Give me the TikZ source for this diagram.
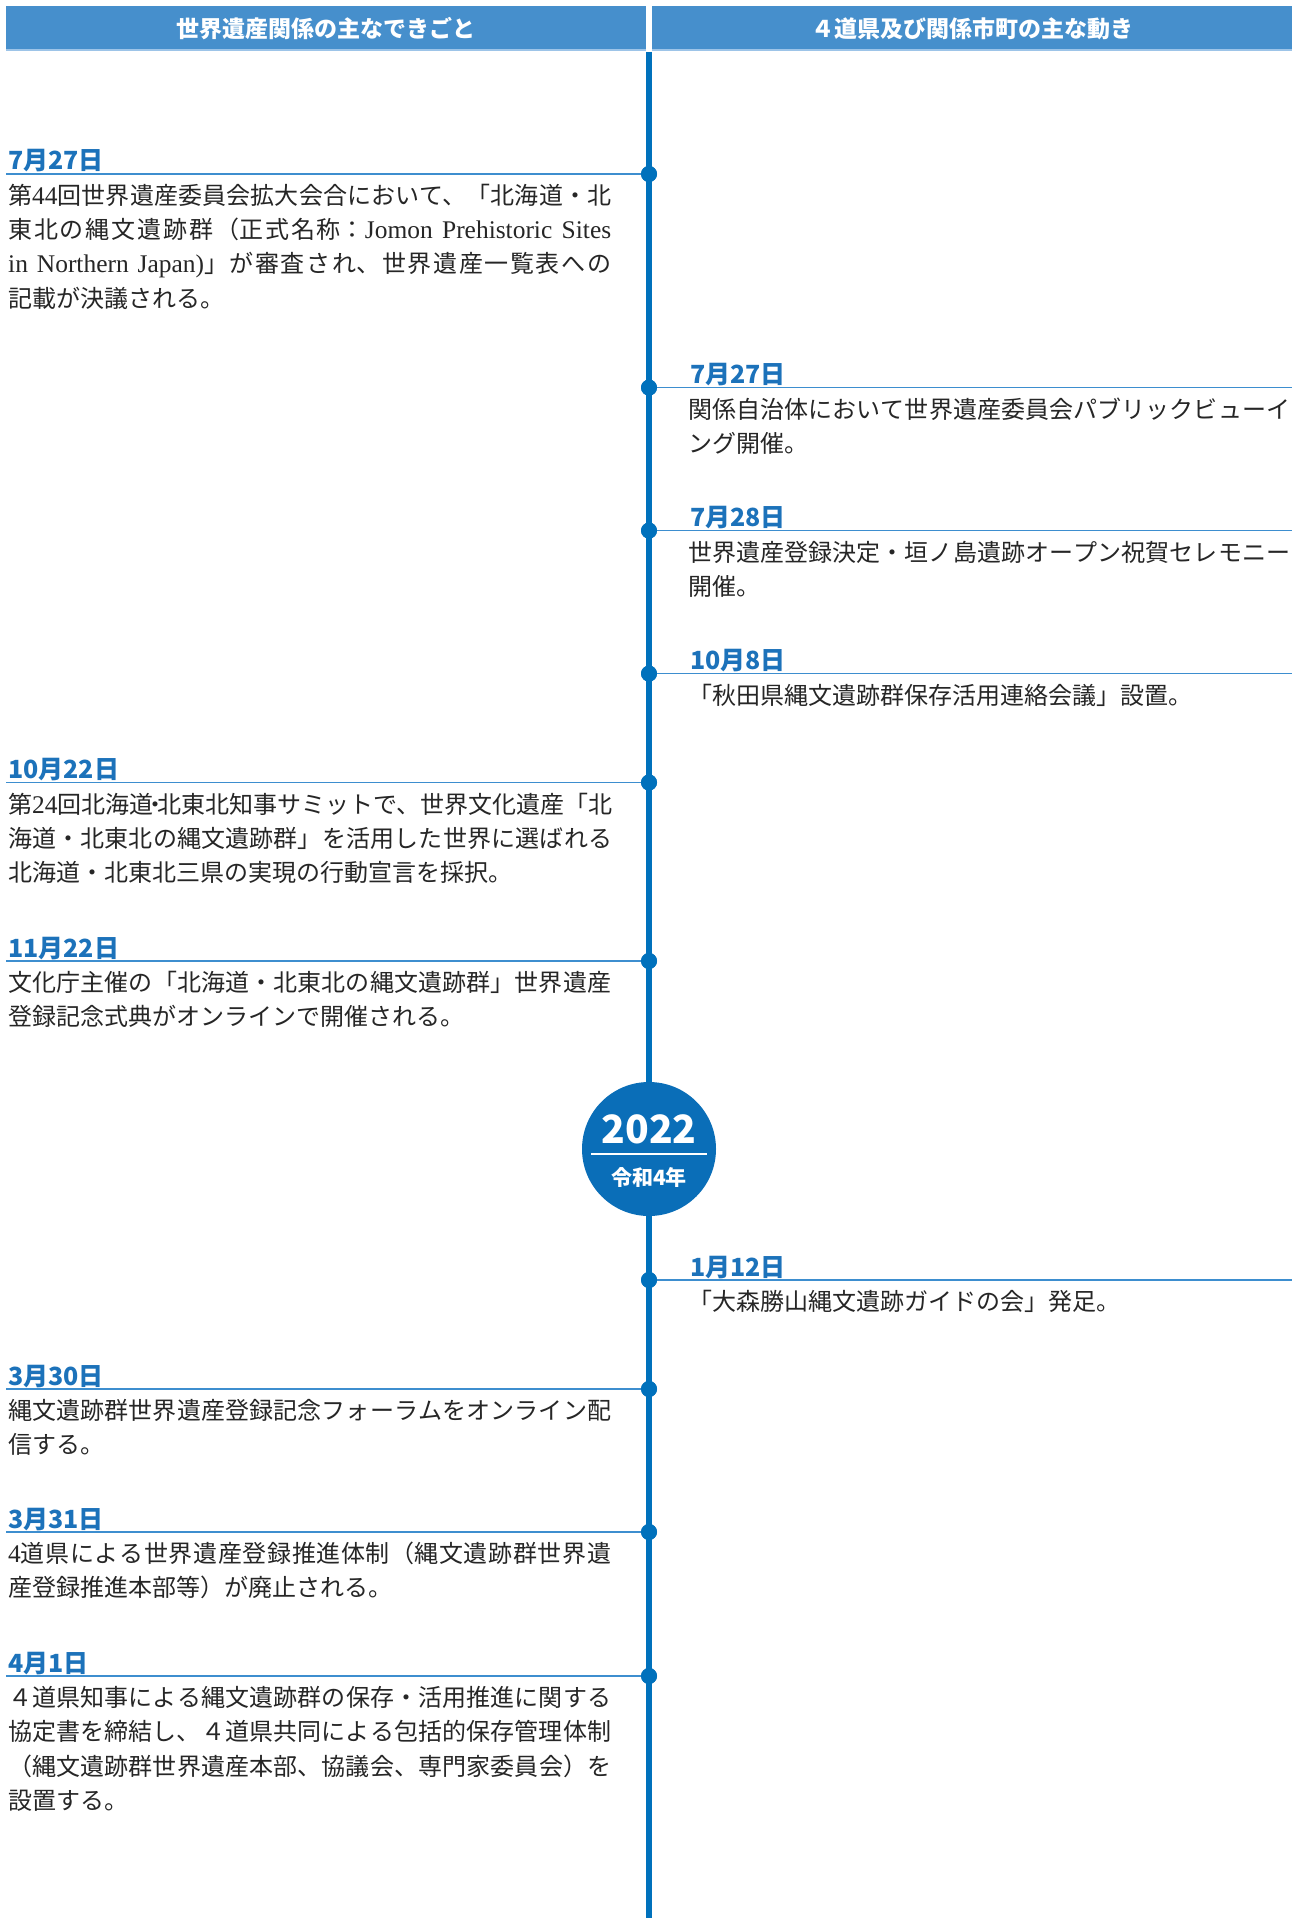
\documentclass[tikz,border=0pt]{standalone}
\usepackage{fontspec}
\setmainfont{Noto Sans CJK JP}
\newfontfamily\latfont[Scale=1.06]{Liberation Serif}
\newcommand\lt[1]{{\latfont #1}}
\XeTeXlinebreaklocale "ja"
\XeTeXlinebreakskip=0pt plus 2pt minus 0.4pt
\definecolor{hdrblue}{HTML}{468FCC}
\definecolor{hdrlight}{HTML}{9DC4E8}
\definecolor{tlblue}{HTML}{0071BC}
\definecolor{lnblue}{HTML}{3D8ECF}
\definecolor{datecol}{HTML}{1C72BA}
\definecolor{circblue}{HTML}{0A6EB8}
\definecolor{txtcol}{HTML}{262626}
\begin{document}
\begin{tikzpicture}[x=1pt,y=-1pt,
  hdr/.style={fill=hdrblue, text=white, font=\fontsize{23}{23}\selectfont\bfseries, minimum height=45pt, minimum width=640pt, inner sep=0pt, anchor=north west},
  hdrline/.style={draw=hdrlight, line width=2pt},
  timeline/.style={draw=tlblue, line width=6pt},
  hline/.style={draw=lnblue, line width=1.6pt},
  dot/.style={circle, fill=tlblue, inner sep=0pt, minimum size=16pt},
  datelbl/.style={anchor=base west, inner sep=0pt, text=datecol, font=\fontsize{25}{25}\selectfont\bfseries},
  body/.style={anchor=base west, inner sep=0pt, text width=603pt, align=justify, text=txtcol, font=\fontsize{24}{34.2}\selectfont}
]
\useasboundingbox[fill=white] (0,0) rectangle (1296,1918);

% headers
\node[hdr] (hl) at (6,6) {世界遺産関係の主なできごと};
\node[hdr] (hr) at (652,6) {４道県及び関係市町の主な動き};
\draw[hdrline] (hl.south west) ++(0,-1) -- ([yshift=1pt]hl.south east);
\draw[hdrline] (hr.south west) ++(0,-1) -- ([yshift=1pt]hr.south east);

% timeline
\coordinate (ttop) at (649,52);
\coordinate (tbot) at (649,1918);
\draw[timeline] (ttop) -- (tbot);

% ---------- left column ----------
\coordinate (L1e) at (6,174);
\coordinate (L2e) at (6,782.5);
\coordinate (L3e) at (6,961);
\coordinate (L4e) at (6,1389);
\coordinate (L5e) at (6,1532);
\coordinate (L6e) at (6,1676);
\node[dot] (L1) at (649,174) {};
\node[dot] (L2) at (649,782.5) {};
\node[dot] (L3) at (649,961) {};
\node[dot] (L4) at (649,1389) {};
\node[dot] (L5) at (649,1532) {};
\node[dot] (L6) at (649,1676) {};
\draw[hline] (L1e) -- (L1);
\draw[hline] (L2e) -- (L2);
\draw[hline] (L3e) -- (L3);
\draw[hline] (L4e) -- (L4);
\draw[hline] (L5e) -- (L5);
\draw[hline] (L6e) -- (L6);

\node[datelbl] (L1d) at (8,170) {7月27日};
\node[body] (L1t) at (8,204.6) {第\lt{44}回世界遺産委員会拡大会合において、「北海道・北\linebreak
東北の縄文遺跡群（正式名称：\lt{Jomon Prehistoric Sites}\linebreak
\lt{in Northern Japan)}」が審査され、世界遺産一覧表への\linebreak
記載が決議される。};

\node[datelbl] (L2d) at (8,778.5) {10月22日};
\node[body, text width=604pt] (L2t) at (8,813.1) {第\lt{24}回北海道\makebox[4pt]{・}北東北知事サミットで、世界文化遺産「北\linebreak
海道・北東北の縄文遺跡群」を活用した世界に選ばれる\linebreak
北海道・北東北三県の実現の行動宣言を採択。};

\node[datelbl] (L3d) at (8,957) {11月22日};
\node[body] (L3t) at (8,991.6) {文化庁主催の「北海道・北東北の縄文遺跡群」世界遺産\linebreak
登録記念式典がオンラインで開催される。};

\node[datelbl] (L4d) at (8,1385) {3月30日};
\node[body] (L4t) at (8,1419.6) {縄文遺跡群世界遺産登録記念フォーラムをオンライン配\linebreak
信する。};

\node[datelbl] (L5d) at (8,1528) {3月31日};
\node[body] (L5t) at (8,1562.6) {\lt{4}道県による世界遺産登録推進体制（縄文遺跡群世界遺\linebreak
産登録推進本部等）が廃止される。};

\node[datelbl] (L6d) at (8,1672) {4月1日};
\node[body] (L6t) at (8,1706.6) {４道県知事による縄文遺跡群の保存・活用推進に関する\linebreak
協定書を締結し、４道県共同による包括的保存管理体制\linebreak
（縄文遺跡群世界遺産本部、協議会、専門家委員会）を\linebreak
設置する。};

% ---------- right column ----------
\coordinate (R1e) at (1292,387.6);
\coordinate (R2e) at (1292,530.6);
\coordinate (R3e) at (1292,673.6);
\coordinate (R4e) at (1292,1280);
\node[dot] (R1) at (649,387.6) {};
\node[dot] (R2) at (649,530.6) {};
\node[dot] (R3) at (649,673.6) {};
\node[dot] (R4) at (649,1280) {};
\draw[hline] (R1) -- (R1e);
\draw[hline] (R2) -- (R2e);
\draw[hline] (R3) -- (R3e);
\draw[hline] (R4) -- (R4e);
\node[dot] at (R1) {};
\node[dot] at (R2) {};
\node[dot] at (R3) {};
\node[dot] at (R4) {};

\node[datelbl] (R1d) at (690,383.6) {7月27日};
\node[body, text width=602pt] (R1t) at (688,418.2) {関係自治体において世界遺産委員会パブリックビューイ\linebreak
ング開催。};

\node[datelbl] (R2d) at (690,526.6) {7月28日};
\node[body, text width=602pt] (R2t) at (688,561.2) {世界遺産登録決定・垣ノ島遺跡オープン祝賀セレモニー\linebreak
開催。};

\node[datelbl] (R3d) at (690,669.6) {10月8日};
\node[body, text width=602pt] (R3t) at (688,704.2) {「秋田県縄文遺跡群保存活用連絡会議」設置。};

\node[datelbl] (R4d) at (690,1276) {1月12日};
\node[body, text width=602pt] (R4t) at (688,1310.6) {「大森勝山縄文遺跡ガイドの会」発足。};

% redraw left dots on top
\node[dot] at (L1) {};
\node[dot] at (L2) {};
\node[dot] at (L3) {};
\node[dot] at (L4) {};
\node[dot] at (L5) {};
\node[dot] at (L6) {};

% ---------- year circle ----------
\node[circle, fill=circblue, inner sep=0pt, minimum size=134pt] (yr) at (649,1149) {};
\node[text=white, inner sep=0pt, font=\fontsize{39}{39}\selectfont\bfseries] (y1) at (649,1129) {2022};
\coordinate (ya) at (591,1154);
\coordinate (yb) at (707,1154);
\draw[white, line width=1.5pt] (ya) -- (yb);
\node[text=white, inner sep=0pt, font=\fontsize{21}{21}\selectfont\bfseries] (y2) at (649,1177) {令和4年};
\end{tikzpicture}
\end{document}
